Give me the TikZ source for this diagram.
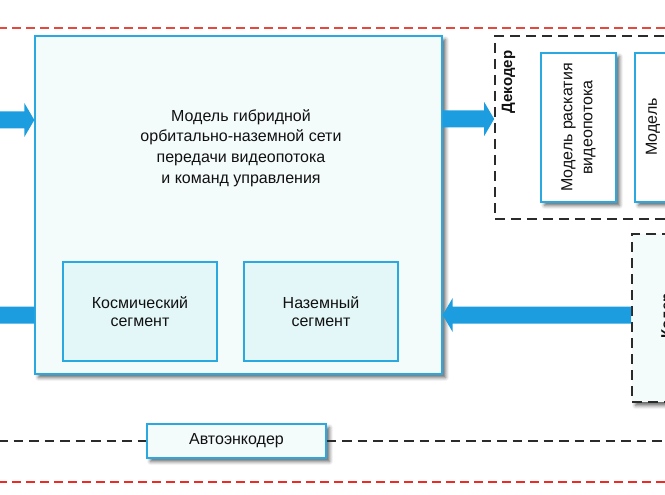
\documentclass[tikz,border=0pt]{standalone}
\usepackage{fontspec}
\setmainfont{Liberation Sans}
\usetikzlibrary{calc,shadows.blur}
\definecolor{bblue}{HTML}{2AA8E0}
\definecolor{ablue}{HTML}{1B9DDF}
\definecolor{pale}{HTML}{F4FBFB}
\definecolor{cyanfill}{HTML}{E4F7F8}
\definecolor{redline}{HTML}{E8473D}
\definecolor{redline2}{HTML}{EE2A24}
\definecolor{dline}{HTML}{2B2B2B}
\definecolor{txtc}{HTML}{111111}
\newcommand\fatR[2]{\fill[ablue] let \p1=(#1), \p2=(#2) in
  (\x1,\y1+8.5pt) -- (\x2-10pt,\y1+8.5pt) -- (\x2-10pt,\y1+17pt) -- (\x2,\y1)
  -- (\x2-10pt,\y1-17pt) -- (\x2-10pt,\y1-8.5pt) -- (\x1,\y1-8.5pt) -- cycle;}
\newcommand\fatL[2]{\fill[ablue] let \p1=(#1), \p2=(#2) in
  (\x1,\y1+8.5pt) -- (\x2+10pt,\y1+8.5pt) -- (\x2+10pt,\y1+17pt) -- (\x2,\y1)
  -- (\x2+10pt,\y1-17pt) -- (\x2+10pt,\y1-8.5pt) -- (\x1,\y1-8.5pt) -- cycle;}
\begin{document}
\begin{tikzpicture}[x=1pt,y=-1pt,
  box/.style={draw=bblue,line width=1.3pt,fill=pale,inner sep=0pt},
  subbox/.style={box,fill=cyanfill},
  shad/.style={blur shadow={shadow xshift=3.5pt,shadow yshift=-3.5pt,shadow blur radius=3.5pt,shadow opacity=60}},
  dbox/.style={draw=dline,line width=1.6pt,dash pattern=on 10pt off 6pt,inner sep=0pt},
  txt/.style={text=txtc,font=\fontsize{16}{20.7}\selectfont,align=center},
  stxt/.style={text=txtc,font=\fontsize{16}{17.5}\selectfont,align=center},
  vtxt/.style={text=txtc,font=\fontsize{16}{20}\selectfont,align=center,rotate=90},
  btxt/.style={text=txtc,font=\fontsize{15}{18}\selectfont\bfseries,rotate=90},
  redd/.style={draw=redline,line width=1.8pt,dash pattern=on 8.5pt off 5.5pt},
  blackd/.style={draw=dline,line width=1.5pt,dash pattern=on 9.5pt off 6pt}]
\useasboundingbox (0,0) rectangle (665,495);
\clip (0,0) rectangle (665,495);
% frame lines
\coordinate (rtl) at (-2,28); \coordinate (rtr) at (667,28);
\coordinate (rbl) at (-2,482); \coordinate (rbr) at (667,482);
\draw[redd] (rtl) -- (rtr);
\draw[redd,draw=redline2,line width=1.5pt] (rbl) -- (rbr);
% main block
\node[box,shad,minimum width=407pt,minimum height=338pt] (main) at (238.5,205) {};
\node[txt] (maintext) at (241,148) {Модель гибридной\\орбитально-наземной сети\\передачи видеопотока\\и команд управления};
\node[subbox,stxt,minimum width=154pt,minimum height=99pt] (space) at (140,311.5) {Космический\\сегмент};
\node[subbox,stxt,minimum width=154pt,minimum height=99pt] (ground) at (321,311.5) {Наземный\\сегмент};
% decoder
\node[dbox,minimum width=225pt,minimum height=183pt] (dec) at (607.5,127.5) {};
\node[btxt] (declabel) at (508.5,82) {Декодер};
\node[box,shad,fill=white,minimum width=75pt,minimum height=149pt] (m1) at (578.5,127.5) {};
\node[vtxt] (m1text) at (m1.center) {Модель раскатия\\видеопотока};
\node[box,shad,fill=white,minimum width=75pt,minimum height=149pt] (m2) at (672.5,127.5) {};
\node[vtxt] (m2text) at (653,127) {Модель};
% encoder (lower right)
\node[dbox,fill=pale,shad,minimum width=88pt,minimum height=168pt] (enc) at (676,318) {};
\node[btxt] (enclabel) at (668,316) {Кодер};
% autoencoder
\node[box,shad,txt,minimum width=179pt,minimum height=34pt] (auto) at (236.5,441) {Автоэнкодер};
\coordinate (bl) at (-2,441); \coordinate (br) at (667,441);
\draw[blackd] (bl) -- (auto.west);
\draw[blackd] (auto.east) -- (br);
% arrows
\coordinate (inL) at (-2,120);
\coordinate (outL) at (-45,315);
\coordinate (y1) at (0,119);
\coordinate (y2) at (0,315);
\fatR{inL}{main.west |- inL}
\fatL{main.west |- y2}{outL}
\fatR{main.east |- y1}{dec.west |- y1}
\fatL{enc.west |- y2}{main.east |- y2}
\end{tikzpicture}
\end{document}
